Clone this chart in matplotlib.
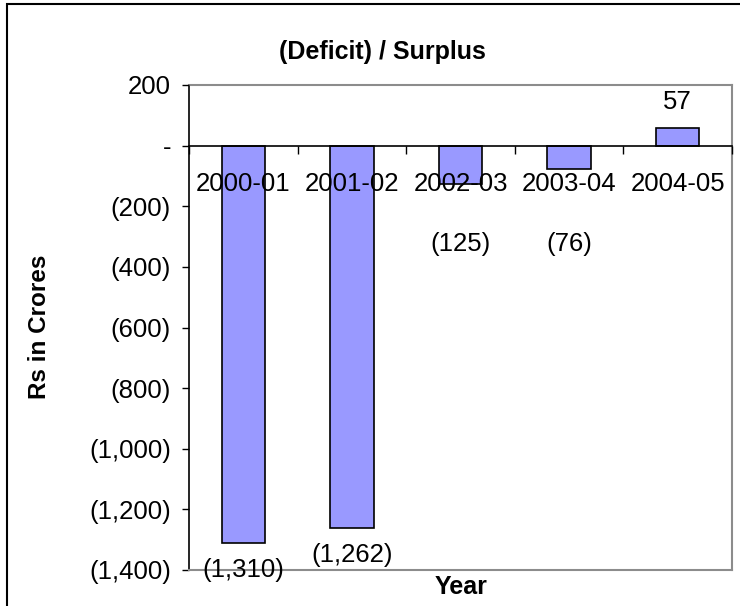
import matplotlib
matplotlib.use("Agg")
import matplotlib.pyplot as plt
from matplotlib.patches import Rectangle
from matplotlib.ticker import FuncFormatter, FixedLocator, NullFormatter

plt.rcParams['font.family'] = ['Liberation Sans', 'DejaVu Sans']

years = ['2000-01', '2001-02', '2002-03', '2003-04', '2004-05']
balance = [-1310, -1262, -125, -76, 57]
y_ticks = [200, 0, -200, -400, -600, -800, -1000, -1200, -1400]

# label offsets in pixels from the bar end (positive = up)
label_offsets = [-27, -27, -60, -75, 26]

W, H = 740, 606
fig = plt.figure(figsize=(W / 100, H / 100), dpi=100)
fig.patch.set_facecolor('white')

# outer chart border
fig.patches.append(Rectangle((7 / W, -0.2), 1.2, 1.2 - 4 / H,
                             transform=fig.transFigure, fill=False,
                             edgecolor='black', linewidth=1.5))

left, right, top, bottom = 189, 732, 85, 570
ax = fig.add_axes([left / W, 1 - bottom / H, (right - left) / W, (bottom - top) / H])
ax.set_axisbelow(False)

x = list(range(len(years)))
ax.bar(x, balance, width=0.4, color='#9999FF', edgecolor='black',
       linewidth=1.2, zorder=1)

ax.set_xlim(-0.5, len(years) - 0.5)
ax.set_ylim(-1400, 200)

gray = '#8c8c8c'
for side in ('top', 'right'):
    ax.spines[side].set_color(gray)
    ax.spines[side].set_linewidth(1.5)
ax.spines['left'].set_color('black')
ax.spines['left'].set_linewidth(1.2)
ax.spines['bottom'].set_position(('data', 0))
ax.spines['bottom'].set_color('black')
ax.spines['bottom'].set_linewidth(1.2)
ax.axhline(-1400, color=gray, linewidth=1.5, clip_on=False, zorder=3)

# y axis
ax.yaxis.set_major_locator(FixedLocator(y_ticks))


def fmt(v, pos):
    if v == 0:
        return '-'
    if v < 0:
        return f'({abs(v):,.0f})'
    return f'{v:,.0f}'


ax.yaxis.set_major_formatter(FuncFormatter(fmt))
ax.tick_params(axis='y', direction='out', length=5, width=1, pad=8,
               labelsize=18.5, colors='black')

# x axis: tick marks between categories, labels at the centres
ax.xaxis.set_major_locator(FixedLocator([i - 0.5 for i in range(len(years) + 1)]))
ax.xaxis.set_major_formatter(NullFormatter())
ax.xaxis.set_minor_locator(FixedLocator(x))
ax.set_xticklabels(years, minor=True)
ax.tick_params(axis='x', which='major', direction='out', length=6, width=1)
ax.tick_params(axis='x', which='minor', length=0, pad=19, labelsize=18.5)

# value labels
for xi, v, off in zip(x, balance, label_offsets):
    txt = fmt(v, None)
    ax.annotate(txt, (xi, v), xytext=(0, off), textcoords='offset pixels',
                ha='center', va='center', fontsize=18.5, zorder=4)

fig.text(382 / W, 1 - 52 / H, '(Deficit) / Surplus', ha='center', va='center',
         fontsize=18, fontweight='bold')
fig.text(461 / W, 1 - 587 / H, 'Year', ha='center', va='center',
         fontsize=18, fontweight='bold')
fig.text(40 / W, 1 - 327 / H, 'Rs in Crores', ha='center', va='center',
         rotation=90, fontsize=17.5, fontweight='bold')

fig.savefig('out.png', dpi=100)
